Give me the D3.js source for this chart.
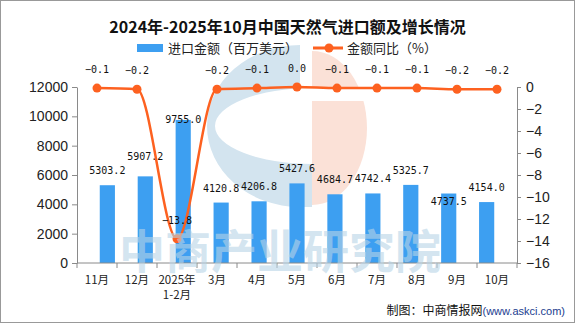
<!DOCTYPE html>
<html>
<head>
<meta charset="utf-8">
<script src="https://cdn.jsdelivr.net/npm/d3@7"></script>
<style>
  body { margin: 0; background: #fff; }
  svg { display: block; }
</style>
</head>
<body>
<svg></svg>
<script>
const size = {w: 575, h: 324};
const margin = {t: 87, r: 58, b: 61, l: 77};

const months = ['11月', '12月', '2025年\n1-2月', '3月', '4月', '5月', '6月', '7月', '8月', '9月', '10月'];
const amounts = [5303.2, 5907.2, 9755.0, 4120.8, 4206.8, 5427.6, 4684.7, 4742.4, 5325.7, 4737.5, 4154.0];
const yoy = [-0.1, -0.2, -13.8, -0.2, -0.1, 0.0, -0.1, -0.1, -0.1, -0.2, -0.2];
const leftTicks = [0, 2000, 4000, 6000, 8000, 10000, 12000];
const rightTicks = [0, -2, -4, -6, -8, -10, -12, -14, -16];

const barColor = '#3d9ff1';
const lineColor = '#fd6120';
const axisColor = '#8a8a8a';
const cjk = '"Noto Sans CJK SC", "Noto Sans", sans-serif';
const mono = '"DejaVu Sans Mono", monospace';
const minus = v => (v < 0 ? '−' : '') + Math.abs(v);

const svg = d3.select('svg')
    .attr('width', size.w)
    .attr('height', size.h);

const plotW = size.w - margin.l - margin.r;
const plotH = size.h - margin.t - margin.b;

const x = d3.scaleBand().domain(months).range([margin.l, margin.l + plotW]).padding(0.6);
const xBand = d3.scaleBand().domain(months).range([margin.l, margin.l + plotW]).padding(0);
const yL = d3.scaleLinear().domain([0, 12000]).range([margin.t + plotH, margin.t]);
const yR = d3.scaleLinear().domain([-16, 0]).range([margin.t + plotH, margin.t]);
const cx = i => xBand(months[i]) + xBand.bandwidth() / 2;

// outer frame
svg.append('rect')
    .attr('x', 0.5).attr('y', 0.5)
    .attr('width', size.w - 1).attr('height', size.h - 2)
    .attr('fill', '#fff')
    .attr('stroke', '#999');

// background logo mark
const logo = svg.append('g').classed('logo', true);
logo.append('path')
    .attr('d', 'M300,45 A93,81 0 0 0 300,207 L312,207 L312,164 A97,38 0 0 1 312,88 L300,88 Z')
    .attr('fill', '#d3e4ef');
logo.append('path')
    .attr('d', 'M312,51 A55,77 0 0 1 312,205 Z')
    .attr('fill', '#fbe1d7');
logo.append('rect')
    .attr('x', 311).attr('y', 88)
    .attr('width', 60).attr('height', 13)
    .attr('fill', '#fff');

// title
svg.append('text')
    .attr('x', size.w / 2).attr('y', 33)
    .attr('text-anchor', 'middle')
    .attr('font-family', cjk)
    .attr('font-weight', 'bold')
    .attr('font-size', 16)
    .attr('fill', '#111')
    .text('2024年-2025年10月中国天然气进口额及增长情况');

// legend
const legend = svg.append('g').attr('font-family', cjk).attr('font-size', 13).attr('fill', '#222');
legend.append('rect')
    .attr('x', 137).attr('y', 44)
    .attr('width', 26).attr('height', 8)
    .attr('fill', barColor);
legend.append('text').attr('x', 168).attr('y', 53).text('进口金额（百万美元）');
legend.append('line')
    .attr('x1', 313).attr('x2', 343).attr('y1', 48).attr('y2', 48)
    .attr('stroke', lineColor).attr('stroke-width', 3);
legend.append('circle').attr('cx', 329).attr('cy', 48).attr('r', 4.5).attr('fill', lineColor);
legend.append('text').attr('x', 347).attr('y', 53).text('金额同比（%）');

// bars
svg.append('g')
    .selectAll('rect')
    .data(amounts)
    .join('rect')
    .attr('x', (d, i) => x(months[i]))
    .attr('y', d => yL(d))
    .attr('width', x.bandwidth())
    .attr('height', d => yL(0) - yL(d))
    .attr('fill', barColor);

// axes
const axisStyle = g => {
    g.selectAll('path, line').attr('stroke', axisColor);
    g.selectAll('text')
        .attr('font-family', '"Liberation Sans", sans-serif')
        .attr('font-size', 14)
        .attr('fill', '#222');
};

svg.append('g')
    .attr('transform', `translate(${margin.l},0)`)
    .call(d3.axisLeft(yL).tickValues(leftTicks).tickSize(5).tickSizeOuter(0).tickPadding(4)
        .tickFormat(d3.format('d')))
    .call(axisStyle);

svg.append('g')
    .attr('transform', `translate(${margin.l + plotW},0)`)
    .call(d3.axisRight(yR).tickValues(rightTicks).tickSize(4).tickSizeOuter(0).tickPadding(5)
        .tickFormat(minus))
    .call(axisStyle);

const xAxis = svg.append('g')
    .attr('transform', `translate(0,${margin.t + plotH})`);
xAxis.append('line')
    .attr('x1', margin.l).attr('x2', margin.l + plotW)
    .attr('stroke', axisColor);
xAxis.selectAll('line.tick')
    .data(months.concat(['end']))
    .join('line')
    .classed('tick', true)
    .attr('x1', (d, i) => i < months.length ? xBand(d) : margin.l + plotW)
    .attr('x2', (d, i) => i < months.length ? xBand(d) : margin.l + plotW)
    .attr('y1', 0).attr('y2', 5)
    .attr('stroke', axisColor);
xAxis.selectAll('text')
    .data(months)
    .join('text')
    .attr('x', d => xBand(d) + xBand.bandwidth() / 2)
    .attr('y', 21)
    .attr('text-anchor', 'middle')
    .attr('font-family', cjk)
    .attr('font-size', 11.5)
    .attr('fill', '#222')
    .selectAll('tspan')
    .data(d => d.split('\n'))
    .join('tspan')
    .attr('x', function() { return this.parentNode.getAttribute('x'); })
    .attr('dy', (d, i) => i === 0 ? 0 : 15)
    .text(d => d);

// value labels over the bars, a few moved to clear the line
const nudge = {'12月': -5, '2025年\n1-2月': 14, '9月': 22};
svg.append('g')
    .selectAll('text')
    .data(amounts)
    .join('text')
    .attr('x', (d, i) => x(months[i]) + x.bandwidth() / 2)
    .attr('y', (d, i) => yL(d) - 11 + (nudge[months[i]] || 0))
    .attr('text-anchor', 'middle')
    .attr('font-family', mono)
    .attr('font-size', 10)
    .attr('fill', '#111')
    .text(d => d.toFixed(1));

// growth line
const line = d3.line()
    .x((d, i) => cx(i))
    .y(d => yR(d))
    .curve(d3.curveMonotoneX);

svg.append('path')
    .datum(yoy)
    .attr('d', line)
    .attr('fill', 'none')
    .attr('stroke', lineColor)
    .attr('stroke-width', 2.5);

svg.append('g')
    .selectAll('circle')
    .data(yoy)
    .join('circle')
    .attr('cx', (d, i) => cx(i))
    .attr('cy', d => yR(d))
    .attr('r', 4.5)
    .attr('fill', lineColor);

svg.append('g')
    .selectAll('text')
    .data(yoy)
    .join('text')
    .attr('x', (d, i) => cx(i))
    .attr('y', d => yR(d) - 15)
    .attr('text-anchor', 'middle')
    .attr('font-family', mono)
    .attr('font-size', 10)
    .attr('fill', '#111')
    .text(d => (d < 0 ? '−' : '') + Math.abs(d).toFixed(1));

// watermark lettering
svg.append('text')
    .attr('x', 280).attr('y', 268)
    .attr('text-anchor', 'middle')
    .attr('font-family', cjk)
    .attr('font-weight', 'bold')
    .attr('font-size', 46)
    .attr('fill', '#b8d4e6')
    .attr('fill-opacity', 0.6)
    .text('中商产业研究院');

// source note
const note = svg.append('text')
    .attr('x', 565).attr('y', 315)
    .attr('text-anchor', 'end');
note.append('tspan')
    .attr('font-family', cjk).attr('font-size', 12).attr('fill', '#111')
    .text('制图：中商情报网');
note.append('tspan')
    .attr('font-family', '"Liberation Sans", sans-serif').attr('font-size', 11).attr('fill', '#1b3d8f')
    .text('(www.askci.com)');
</script>
</body>
</html>
